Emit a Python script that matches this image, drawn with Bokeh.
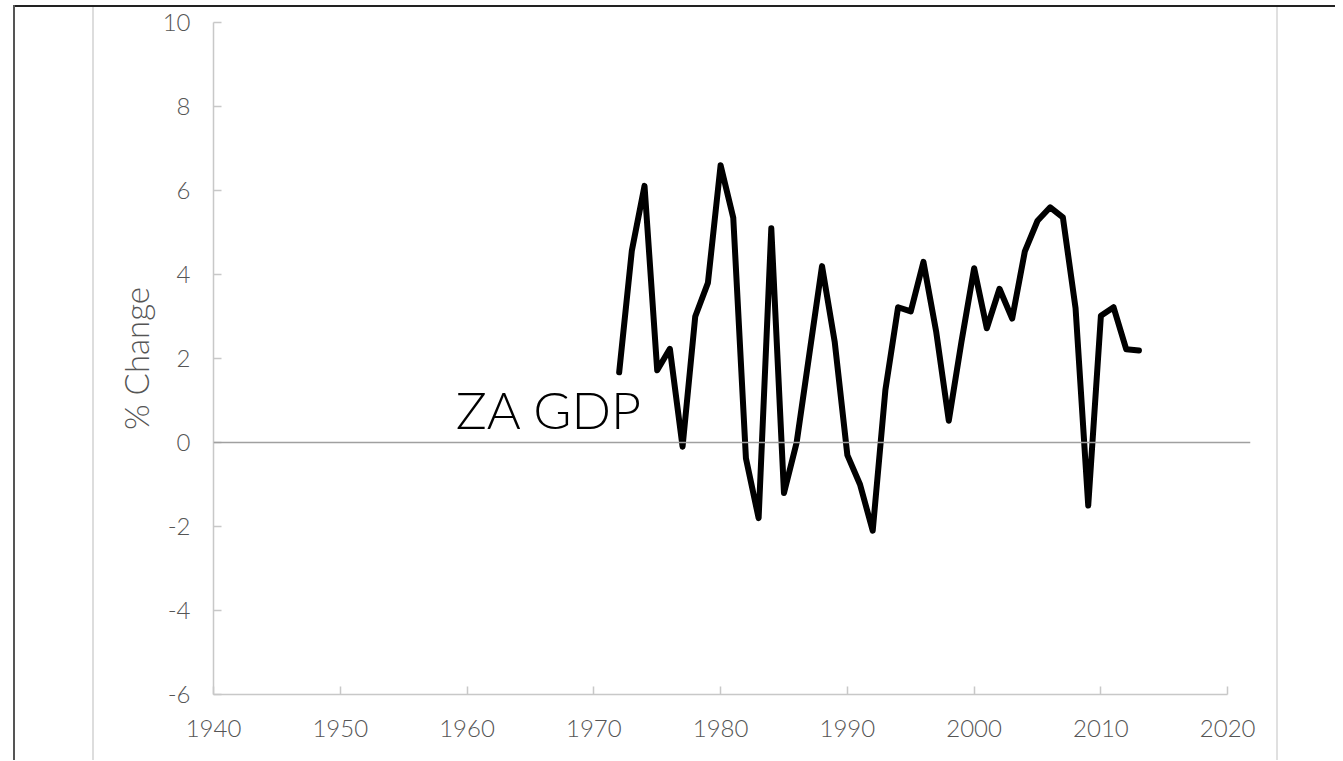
from bokeh.plotting import figure
from bokeh.models import Range1d, Span, Label, FixedTicker
from bokeh.embed import file_html
from bokeh.resources import INLINE

years = list(range(1972, 2014))
gdp_change = [1.67, 4.57, 6.11, 1.72, 2.23, -0.1, 3.0, 3.8, 6.6, 5.35,
              -0.38, -1.8, 5.1, -1.2, 0.0, 2.1, 4.2, 2.4, -0.3, -1.0,
              -2.1, 1.25, 3.22, 3.12, 4.3, 2.65, 0.52, 2.4, 4.15, 2.72,
              3.66, 2.95, 4.55, 5.28, 5.6, 5.36, 3.2, -1.5, 3.02, 3.22,
              2.22, 2.19]
x_ticks = [1940, 1950, 1960, 1970, 1980, 1990, 2000, 2010, 2020]
y_ticks = [-6, -4, -2, 0, 2, 4, 6, 8, 10]
series_label = "ZA GDP"
y_title = "% Change"

W, H = 1335, 760
p = figure(width=W, height=H, output_backend="svg", toolbar_location=None,
           x_range=Range1d(1940, 2021.8), y_range=Range1d(-6, 10),
           min_border_left=213, min_border_top=22, min_border_bottom=H - 694,
           min_border_right=W - 1250)
p.outline_line_color = None
p.grid.visible = False
p.background_fill_alpha = 0
p.border_fill_alpha = 0
p.styles = {
    "background-color": "white",
    "background-image": ("linear-gradient(#555,#555), linear-gradient(#222,#222), "
                         "linear-gradient(#ddd,#ddd), linear-gradient(#e0e0e0,#e0e0e0)"),
    "background-size": "2px 100%, 100% 2px, 2px 100%, 2px 100%",
    "background-position": "13px 5px, 13px 5px, 92px 6px, 1276px 6px",
    "background-repeat": "no-repeat",
}

axis_color = "#c8c8c8"
label_color = "#555555"
font = "Lato Light"

for ax in (p.xaxis[0], p.yaxis[0]):
    ax.axis_line_color = axis_color
    ax.axis_line_width = 1.5
    ax.major_tick_line_color = axis_color
    ax.major_tick_line_width = 1.5
    ax.major_tick_in = 8
    ax.major_tick_out = 0
    ax.minor_tick_line_color = None
    ax.major_label_text_color = label_color
    ax.major_label_text_font = font
    ax.major_label_text_font_size = "24px"

p.xaxis[0].major_label_standoff = 25
p.yaxis[0].major_label_standoff = 23
p.xaxis[0].ticker = FixedTicker(ticks=x_ticks)
p.yaxis[0].ticker = FixedTicker(ticks=y_ticks)
p.yaxis[0].major_label_overrides = {v: str(v) for v in y_ticks}
p.xaxis[0].major_label_overrides = {v: str(v) for v in x_ticks}
p.xaxis[0].bounds = (1940, 2020)
p.yaxis[0].axis_label = y_title
p.yaxis[0].axis_label_text_font = font
p.yaxis[0].axis_label_text_font_style = "normal"
p.yaxis[0].axis_label_text_font_size = "33px"
p.yaxis[0].axis_label_text_color = label_color
p.yaxis[0].axis_label_standoff = 4

p.add_layout(Span(location=0, dimension="width", line_color="#a0a0a0", line_width=1.5))

p.line(years, gdp_change, line_color="black", line_width=6,
       line_join="round", line_cap="round")

p.add_layout(Label(x=1959.1, y=0.8, text=series_label, text_font="Lato Light",
                   text_font_size="52px", text_color="black",
                   text_baseline="alphabetic"))

open("out.html", "w").write(file_html(p, INLINE))
